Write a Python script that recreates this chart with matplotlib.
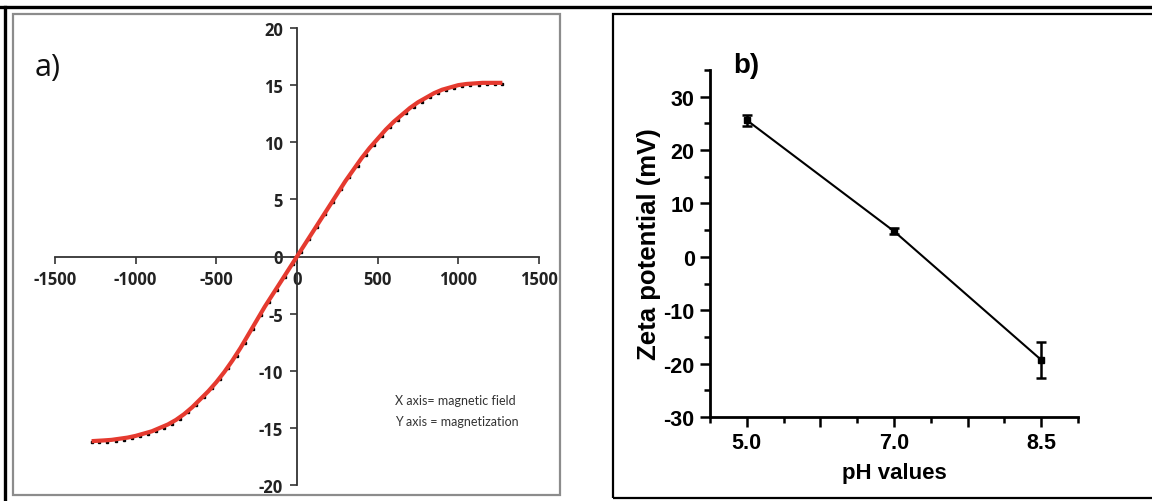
import matplotlib
matplotlib.use('Agg')
import matplotlib.pyplot as plt
from matplotlib.lines import Line2D
from matplotlib.patches import Rectangle
from matplotlib.ticker import FixedLocator, FixedFormatter

plt.rcParams['axes.unicode_minus'] = False

W, H = 1152, 502

# a) magnetization curve
field_fit = [-1260, -1200, -1150, -1100, -1050, -1000, -950, -900, -850, -800,
             -750, -700, -650, -600, -550, -500, -450, -400, -350, -300,
             -250, -200, -150, -100, -50, 0, 50, 100, 150, 200,
             250, 300, 350, 400, 450, 500, 550, 600, 650, 700,
             750, 800, 850, 900, 950, 1000, 1050, 1100, 1150, 1200, 1260]
magn_fit = [-16.15, -16.1, -16.05, -15.95, -15.85, -15.7, -15.5, -15.3, -15.0, -14.7,
            -14.3, -13.8, -13.2, -12.5, -11.8, -11.0, -10.1, -9.1, -8.0, -6.8,
            -5.6, -4.4, -3.3, -2.2, -1.1, 0.0, 1.1, 2.2, 3.3, 4.4,
            5.5, 6.6, 7.6, 8.6, 9.5, 10.3, 11.1, 11.8, 12.4, 13.0,
            13.5, 13.9, 14.3, 14.6, 14.8, 15.0, 15.1, 15.15, 15.2, 15.2, 15.2]
field_pts = [-1270, -1225, -1175, -1125, -1075, -1025, -975, -925, -875, -825,
             -775, -725, -675, -625, -575, -525, -475, -425, -375, -325,
             -275, -225, -175, -125, -75, -25, 25, 75, 125, 175,
             225, 275, 325, 375, 425, 475, 525, 575, 625, 675,
             725, 775, 825, 875, 925, 975, 1025, 1075, 1125, 1175, 1225, 1270]
magn_pts = [-16.25, -16.25, -16.2, -16.15, -16.05, -15.9, -15.75, -15.55, -15.3, -15.0,
            -14.65, -14.2, -13.65, -13.0, -12.3, -11.55, -10.7, -9.75, -8.7, -7.55,
            -6.35, -5.15, -4.0, -2.9, -1.8, -0.7, 0.4, 1.5, 2.6, 3.7,
            4.8, 5.9, 6.95, 7.95, 8.9, 9.75, 10.55, 11.3, 11.95, 12.55,
            13.1, 13.55, 13.95, 14.3, 14.55, 14.75, 14.9, 15.0, 15.05, 15.1, 15.1, 15.1]

# b) zeta potential
ph_labels = ['5.0', '7.0', '8.5']
zeta = [25.6, 4.8, -19.3]
zeta_err = [1.0, 0.6, 3.4]


def fx(x):
    return x / W


def fy(y):
    return 1 - y / H


fig = plt.figure(figsize=(W / 100, H / 100), dpi=100)

# frames around the panels
fig.add_artist(Line2D([0, 1], [fy(8), fy(8)], color='black', lw=2.4))
fig.add_artist(Line2D([fx(5), fx(5)], [fy(8), 0], color='black', lw=2.4))
fig.add_artist(Rectangle((fx(13), fy(496)), fx(560 - 13), (496 - 15) / H,
                         fill=False, edgecolor='#8c8c8c', lw=1.6))
fig.add_artist(Rectangle((fx(613), fy(499)), fx(1160 - 613), (499 - 15) / H,
                         fill=False, edgecolor='black', lw=1.6))

# ---- panel a
ax1 = fig.add_axes([fx(55), fy(486), fx(539 - 55), (486 - 29) / H])
ax1.plot(field_pts, magn_pts, ls='none', marker='s', ms=1.8, color='black', zorder=2)
ax1.plot(field_fit, magn_fit, color='#e53a2f', lw=3, zorder=3)
ax1.set_xlim(-1500, 1500)
ax1.set_ylim(-20, 20)
ax1.set_xticks(range(-1500, 1501, 500))
ax1.set_yticks(range(-20, 21, 5))
for s in ['top', 'right']:
    ax1.spines[s].set_visible(False)
ax1.spines['left'].set_position(('data', 0))
ax1.spines['bottom'].set_position(('data', 0))
for s in ['left', 'bottom']:
    ax1.spines[s].set_color('#333333')
    ax1.spines[s].set_linewidth(1.3)
ax1.tick_params(direction='out', length=5, width=1.2, color='#333333', pad=5)
for lab in ax1.get_xticklabels() + ax1.get_yticklabels():
    lab.set_fontfamily('Open Sans')
    lab.set_fontweight('bold')
    lab.set_fontsize(12)
    lab.set_color('#222222')
ax1.set_facecolor('none')

fig.text(fx(35), fy(68), 'a)', fontsize=22, family='Open Sans', va='center', ha='left',
         color='#111111')
fig.text(fx(395), fy(401), 'X axis= magnetic field', fontsize=9, family='Lato',
         va='center', ha='left', color='#333333')
fig.text(fx(395), fy(422), 'Y axis = magnetization', fontsize=9, family='Lato',
         va='center', ha='left', color='#333333')

# ---- panel b
ax2 = fig.add_axes([fx(710), fy(418), fx(1078 - 710), (418 - 71) / H])
xpos = [1, 2, 3]
ax2.errorbar(xpos, zeta, yerr=zeta_err, color='black', lw=1.5, marker='s', ms=5,
             capsize=3.5, capthick=1.8, elinewidth=1.8)
ax2.set_xlim(0.75, 3.25)
ax2.set_ylim(-30, 35)
ax2.xaxis.set_major_locator(FixedLocator([1, 1.5, 2, 2.5, 3]))
ax2.xaxis.set_major_formatter(FixedFormatter([ph_labels[0], '', ph_labels[1], '', ph_labels[2]]))
ax2.xaxis.set_minor_locator(FixedLocator([0.75, 1.25, 1.75, 2.25, 2.75, 3.25]))
ax2.yaxis.set_major_locator(FixedLocator(range(-30, 31, 10)))
ax2.yaxis.set_minor_locator(FixedLocator(range(-25, 36, 10)))
for s in ['top', 'right']:
    ax2.spines[s].set_visible(False)
for s in ['left', 'bottom']:
    ax2.spines[s].set_linewidth(2)
ax2.tick_params(which='major', direction='out', length=7, width=1.8, pad=4)
ax2.tick_params(which='minor', direction='out', length=4, width=1.8)
for lab in ax2.get_xticklabels() + ax2.get_yticklabels():
    lab.set_fontfamily('Liberation Sans')
    lab.set_fontweight('bold')
    lab.set_fontsize(15.5)
ax2.set_xlabel('pH values', fontsize=16, family='Liberation Sans', fontweight='bold', labelpad=6)
ax2.set_ylabel('Zeta potential (mV)', fontsize=18.5, family='Liberation Sans', fontweight='bold',
               labelpad=2)
fig.text(fx(733), fy(66), 'b)', fontsize=20, family='Liberation Sans', fontweight='bold',
         va='center', ha='left')

fig.savefig('out.png', dpi=100)
